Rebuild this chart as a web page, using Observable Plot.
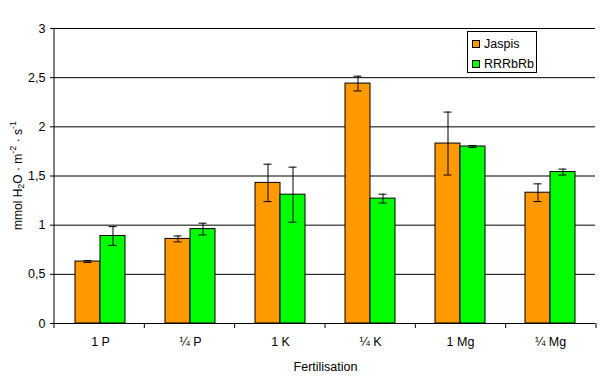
<!DOCTYPE html>
<html><head><meta charset="utf-8">
<script src="https://cdn.jsdelivr.net/npm/d3@7"></script>
<script src="https://cdn.jsdelivr.net/npm/@observablehq/plot@0.6"></script>
<style>
body{margin:0;background:#fff;font-family:"Liberation Sans",Arial,sans-serif;}
#wrap{position:relative;width:605px;height:381px;}
#legend{position:absolute;left:467px;top:31px;width:68px;height:40px;border:1px solid #000;background:#fff;font-size:12.5px;color:#000;}
#legend .item{position:absolute;left:4px;height:14px;line-height:14px;white-space:nowrap;}
#legend .sw{display:inline-block;width:6px;height:6px;border:1px solid #000;margin-right:4px;vertical-align:0px;}
</style></head><body><div id="wrap"></div>
<script>
const categories = ["1 P","¼ P","1 K","¼ K","1 Mg","¼ Mg"];
const series = ["Jaspis","RRRbRb"];
const colors = ["#FF9900","#00FF00"];
const jaspis    = [0.63,0.86,1.43,2.44,1.83,1.33];
const jaspisErr = [0.01,0.03,0.19,0.075,0.32,0.09];
const rrrbrb    = [0.89,0.96,1.31,1.27,1.80,1.54];
const rrrbrbErr = [0.095,0.06,0.28,0.045,0.01,0.03];
const yTicks = [0,0.5,1,1.5,2,2.5,3];
const xLabel = "Fertilisation";

const data = categories.flatMap((c,i)=>[
  {cat:c, s:series[0], v:jaspis[i], e:jaspisErr[i]},
  {cat:c, s:series[1], v:rrrbrb[i], e:rrrbrbErr[i]}
]);

const chart = Plot.plot({
  width:605, height:381,
  marginLeft:54, marginRight:9, marginTop:28, marginBottom:58,
  style:{fontFamily:"'Liberation Sans', Arial, sans-serif", fontSize:"12px", color:"#000", background:"#fff", overflow:"visible"},
  fx:{domain:categories, padding:0, label:xLabel},
  x:{domain:series, paddingInner:0, paddingOuter:0.8, axis:null},
  y:{domain:[0,3]},
  color:{domain:series, range:colors},
  marks:[
    Plot.gridY(yTicks.slice(1), {stroke:"#000", strokeOpacity:1, strokeWidth:1}),
    Plot.barY(data, {fx:"cat", x:"s", y:"v", fill:"s", stroke:"#000", strokeWidth:1}),
    Plot.ruleX(data, {fx:"cat", x:"s", y1:d=>d.v-d.e, y2:d=>d.v+d.e, stroke:"#000", strokeWidth:1}),
    Plot.tickY(data, {fx:"cat", x:"s", y:d=>d.v-d.e, stroke:"#000", insetLeft:8.5, insetRight:8.5}),
    Plot.tickY(data, {fx:"cat", x:"s", y:d=>d.v+d.e, stroke:"#000", insetLeft:8.5, insetRight:8.5}),
    Plot.ruleY([0], {stroke:"#000", strokeWidth:1}),
    Plot.axisY(yTicks, {tickSize:5, tickPadding:5, tickFormat:d=>String(d).replace(".", ","), label:null, fontSize:12.5}),
    Plot.axisFx({anchor:"bottom", tickSize:0, tickPadding:14, label:xLabel, labelAnchor:"center", labelOffset:47, fontSize:12.5, fontWeight:"normal"})
  ]
});

const wrap = document.getElementById("wrap");
wrap.appendChild(chart);

// extra axis lines drawn from Plot's scales
const svg = d3.select(chart);
const fx = chart.scale("fx");
const ys = chart.scale("y");
const r0 = fx.range[0], r1 = fx.range[1];
const step = (r1 - r0) / categories.length;
const y0 = ys.apply(0), y3 = ys.apply(3);
svg.append("line").attr("x1", r0).attr("x2", r0).attr("y1", y3).attr("y2", y0).attr("stroke", "#000");
for (let i = 0; i <= categories.length; i++) {
  const x = r0 + i * step;
  svg.append("line").attr("x1", x).attr("x2", x).attr("y1", y0).attr("y2", y0 + 5).attr("stroke", "#000");
}
// y-axis title with sub/superscripts
const t = svg.append("text")
  .attr("transform", `translate(19,${(y0 + y3) / 2}) rotate(-90)`)
  .attr("text-anchor", "middle").attr("dominant-baseline", "middle")
  .attr("font-size", 12).attr("fill", "#000");
t.append("tspan").text("mmol H");
t.append("tspan").attr("font-size", 9).attr("dy", 3).text("2");
t.append("tspan").attr("dy", -3).text("O · m");
t.append("tspan").attr("font-size", 9).attr("dy", -5).text("-2");
t.append("tspan").attr("dy", 5).text(" · s");
t.append("tspan").attr("font-size", 9).attr("dy", -5).text("-1");

// legend
const lg = document.createElement("div");
lg.id = "legend";
series.forEach((s, i) => {
  const it = document.createElement("div");
  it.className = "item";
  it.style.top = (5 + i * 20) + "px";
  const sw = document.createElement("span");
  sw.className = "sw";
  sw.style.background = colors[i];
  it.appendChild(sw);
  it.appendChild(document.createTextNode(s));
  lg.appendChild(it);
});
wrap.appendChild(lg);
</script>
</body></html>
